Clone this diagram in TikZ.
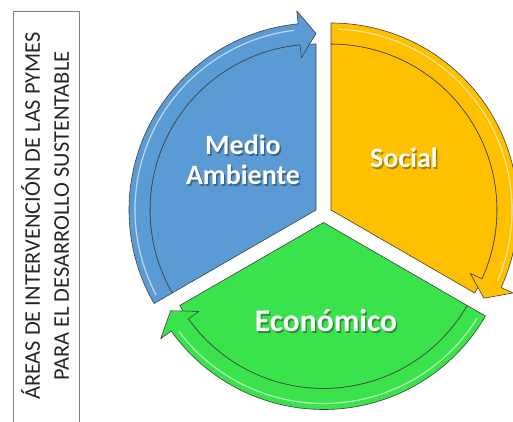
\documentclass[tikz,border=0pt]{standalone}
\usepackage{fontspec}
\setmainfont{Carlito}
\definecolor{cblue}{HTML}{5B9BD5}
\definecolor{cyellow}{HTML}{FFC000}
\definecolor{cgreen}{HTML}{3AE24C}
\begin{document}
\begin{tikzpicture}[x=1pt,y=1pt,
  seg/.style={draw=black!75, line width=0.6pt, line join=round},
  hl/.style={draw=white, draw opacity=0.6, line width=1.2pt},
  lbl/.style={font=\bfseries\fontsize{28}{30}\selectfont, text=white, align=center},
  shd/.style={font=\bfseries\fontsize{28}{30}\selectfont, text=black, text opacity=0.35, align=center},
  lblbig/.style={font=\bfseries\fontsize{31.5}{33}\selectfont, text=white},
  shdbig/.style={font=\bfseries\fontsize{31.5}{33}\selectfont, text=black, text opacity=0.35}]
\useasboundingbox (0,0) rectangle (513,-421);
% title box
\draw[black!50, line width=0.8pt] (13,-11) rectangle (79,-432);
\node[rotate=90, font=\fontsize{22.4}{29}\selectfont, align=center, text=black!85] (title) at (45,-216)
  {ÁREAS DE INTERVENCIÓN DE LAS PYMES\\PARA EL DESARROLLO SUSTENTABLE};
% blue segment
\begin{scope}[shift={(316,-210)}]
  \fill[cblue, seg] (0,0) -- (210:166pt) arc[start angle=210,end angle=90,radius=166pt] -- cycle;
  \fill[cblue, seg] (210:187pt) arc[start angle=210,end angle=95.5,radius=187pt] -- (95.5:200pt) -- (90:176.5pt) -- (95.5:153pt) -- (95.5:166pt) arc[start angle=95.5,end angle=210,radius=166pt] -- cycle;
  \draw[hl] (208:181pt) arc[start angle=208,end angle=97,radius=181pt];
\end{scope}
% yellow segment
\begin{scope}[shift={(331,-210)}]
  \fill[cyellow, seg] (0,0) -- (90:166pt) arc[start angle=90,end angle=-30,radius=166pt] -- cycle;
  \fill[cyellow, seg] (90:187pt) arc[start angle=90,end angle=-24.5,radius=187pt] -- (-24.5:200pt) -- (-30:176.5pt) -- (-24.5:153pt) -- (-24.5:166pt) arc[start angle=-24.5,end angle=90,radius=166pt] -- cycle;
  \draw[hl] (88:181pt) arc[start angle=88,end angle=-23,radius=181pt];
\end{scope}
% green segment
\begin{scope}[shift={(323.5,-222.5)}]
  \fill[cgreen, seg] (0,0) -- (-30:166pt) arc[start angle=-30,end angle=-150,radius=166pt] -- cycle;
  \fill[cgreen, seg] (-30:187pt) arc[start angle=-30,end angle=-144.5,radius=187pt] -- (-144.5:200pt) -- (-150:176.5pt) -- (-144.5:153pt) -- (-144.5:166pt) arc[start angle=-144.5,end angle=-30,radius=166pt] -- cycle;
  \draw[hl] (-32:181pt) arc[start angle=-32,end angle=-143,radius=181pt];
\end{scope}
% labels
\node[shd] at (244.5,-161.5) {Medio\\Ambiente};
\node[lbl] (medio) at (243,-160) {Medio\\Ambiente};
\node[shd] at (405.5,-159.5) {Social};
\node[lbl] (social) at (404,-158) {Social};
\node[shdbig] at (327.5,-322.5) {Económico};
\node[lblbig] (economico) at (326,-321) {Económico};
\end{tikzpicture}
\end{document}
